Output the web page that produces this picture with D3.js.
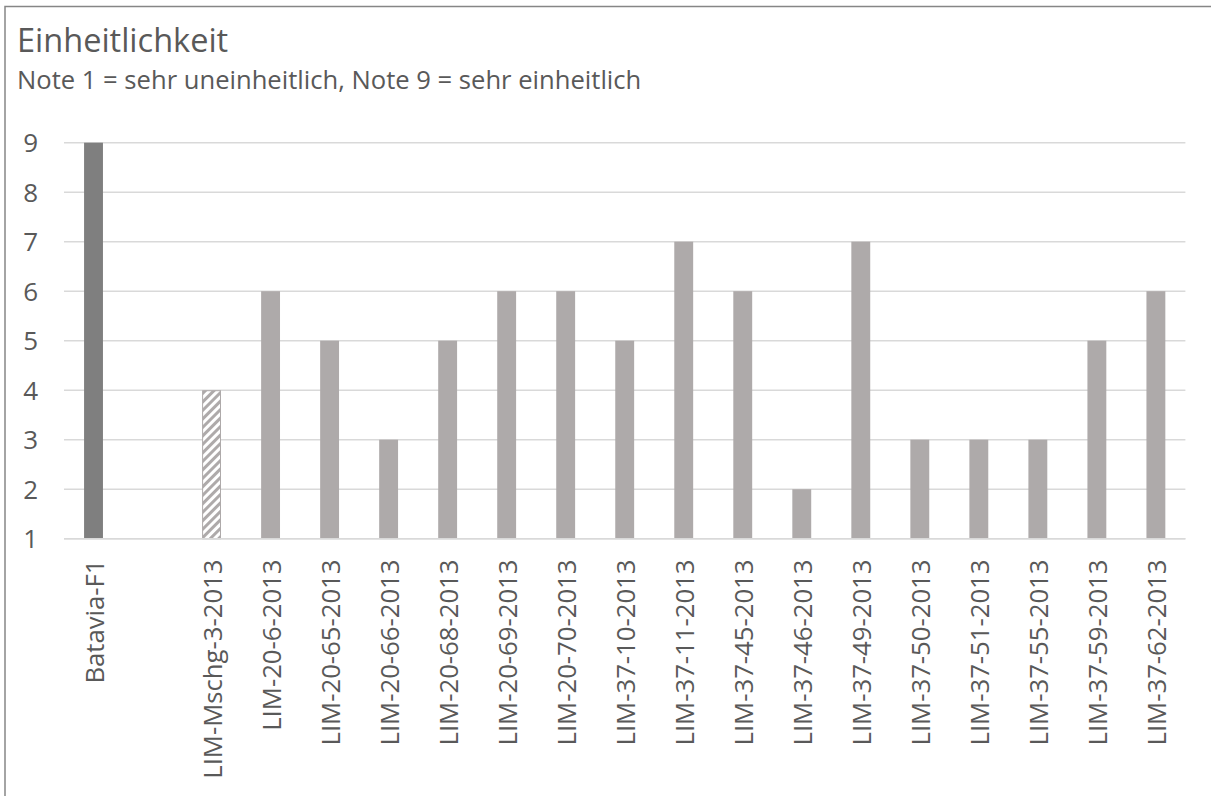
<!DOCTYPE html>
<html>
<head>
<meta charset="utf-8">
<script src="https://cdn.jsdelivr.net/npm/d3@7"></script>
<style>
  html, body { margin: 0; padding: 0; background: #fff; }
  svg { display: block; }
  text { font-family: "Open Sans", sans-serif; fill: #595959; }
</style>
</head>
<body>
<svg id="chart" width="1211" height="796"></svg>
<script>
// Varieties (one blank slot separates the standard from the lines)
const categories = [
  "Batavia-F1", "", "LIM-Mschg-3-2013", "LIM-20-6-2013", "LIM-20-65-2013",
  "LIM-20-66-2013", "LIM-20-68-2013", "LIM-20-69-2013", "LIM-20-70-2013",
  "LIM-37-10-2013", "LIM-37-11-2013", "LIM-37-45-2013", "LIM-37-46-2013",
  "LIM-37-49-2013", "LIM-37-50-2013", "LIM-37-51-2013", "LIM-37-55-2013",
  "LIM-37-59-2013", "LIM-37-62-2013"
];
// Uniformity score (1 = very non-uniform, 9 = very uniform)
const scores = [9, null, 4, 6, 5, 3, 5, 6, 6, 5, 7, 6, 2, 7, 3, 3, 3, 5, 6];
// Bar style per variety: standard, reference mix, breeding line
const kinds = ["standard", "none", "mix", "line", "line", "line", "line", "line", "line",
  "line", "line", "line", "line", "line", "line", "line", "line", "line", "line"];
const yTicks = [1, 2, 3, 4, 5, 6, 7, 8, 9];
const titleText = "Einheitlichkeit";
const subtitleText = "Note 1 = sehr uneinheitlich, Note 9 = sehr einheitlich";

const svg = d3.select("#chart");
const W = 1211, H = 796;

svg.append("rect").attr("width", W).attr("height", H).attr("fill", "#fff");

// Hatch for the mixture bar
const defs = svg.append("defs");
const pat = defs.append("pattern")
  .attr("id", "hatch")
  .attr("patternUnits", "userSpaceOnUse")
  .attr("width", 6).attr("height", 6)
  .attr("patternTransform", "rotate(45)");
pat.append("rect").attr("width", 6).attr("height", 6).attr("fill", "#fff");
pat.append("rect").attr("width", 3).attr("height", 6).attr("fill", "#aeaaaa");

// Chart frame
svg.append("path")
  .attr("d", `M5,${H} L5,6.5 L${W},6.5`)
  .attr("fill", "none")
  .attr("stroke", "#868686")
  .attr("stroke-width", 1.5);

svg.append("text")
  .attr("x", 17).attr("y", 52)
  .style("font-size", "32.5px")
  .text(titleText);
svg.append("text")
  .attr("x", 17).attr("y", 89)
  .style("font-size", "25.6px")
  .text(subtitleText);

const x = d3.scaleBand()
  .domain(categories.map((c, i) => i))
  .range([64, 1185.4])
  .paddingInner(0.68)
  .paddingOuter(0.34);

const y = d3.scaleLinear().domain([1, 9]).range([538.7, 142.7]);

// Gridlines
svg.append("g")
  .selectAll("line")
  .data(yTicks)
  .join("line")
  .attr("x1", 64).attr("x2", 1185.4)
  .attr("y1", d => y(d)).attr("y2", d => y(d))
  .attr("stroke", "#d9d9d9")
  .attr("stroke-width", 1.5);

// Y tick labels
svg.append("g")
  .selectAll("text")
  .data(yTicks)
  .join("text")
  .attr("x", 38)
  .attr("y", d => y(d))
  .attr("dy", "0.36em")
  .attr("text-anchor", "end")
  .style("font-size", "26px")
  .text(d => d);

// Bars
const data = categories.map((c, i) => ({ i, c, v: scores[i], k: kinds[i] }))
  .filter(d => d.v != null);

const fillFor = k => k === "standard" ? "#7f7f7f" : k === "mix" ? "url(#hatch)" : "#aeaaaa";

svg.append("g")
  .selectAll("rect")
  .data(data)
  .join("rect")
  .attr("x", d => x(d.i) + (d.k === "mix" ? 0.5 : 0))
  .attr("y", d => y(d.v) + (d.k === "mix" ? 0.5 : 0))
  .attr("width", d => x.bandwidth() - (d.k === "mix" ? 1 : 0))
  .attr("height", d => y(1) - y(d.v) - (d.k === "mix" ? 0.5 : 0))
  .attr("fill", d => fillFor(d.k))
  .attr("stroke", d => d.k === "mix" ? "#aeaaaa" : "none")
  .attr("stroke-width", 1);

// Category axis line
svg.append("line")
  .attr("x1", 64).attr("x2", 1185.4)
  .attr("y1", y(1)).attr("y2", y(1))
  .attr("stroke", "#d9d9d9")
  .attr("stroke-width", 1.5);

// Category labels, rotated
svg.append("g")
  .selectAll("text")
  .data(categories.map((c, i) => ({ c, i })).filter(d => d.c !== ""))
  .join("text")
  .attr("transform", d => `translate(${x(d.i) + x.bandwidth() / 2 + 10.5},559.5) rotate(-90)`)
  .attr("text-anchor", "end")
  .style("font-size", "25.7px")
  .text(d => d.c);
</script>
</body>
</html>
